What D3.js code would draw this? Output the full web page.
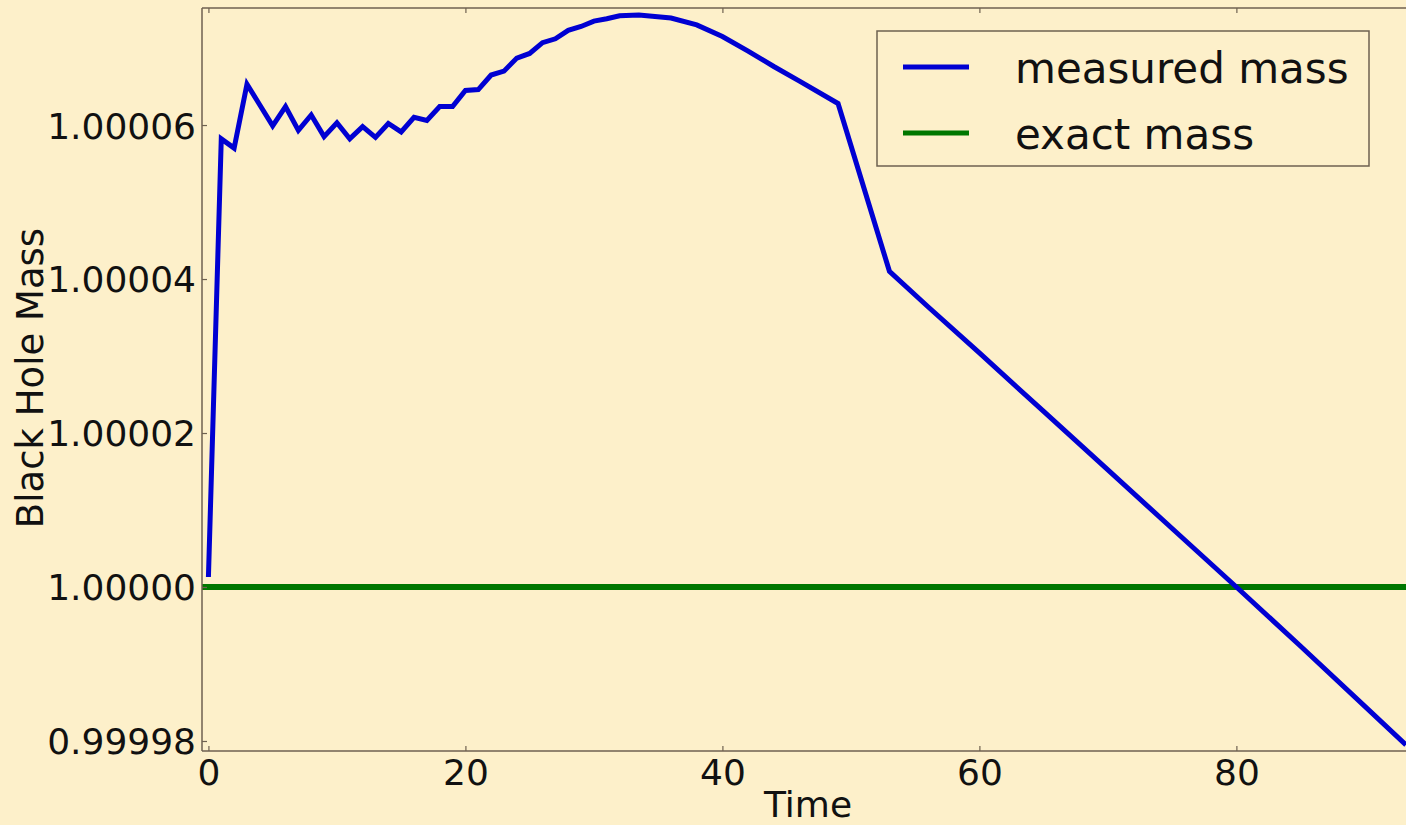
<!DOCTYPE html>
<html>
<head>
<meta charset="utf-8">
<style>
  body { margin: 0; background: #fdf0ca; }
  svg { display: block; }
  text { font-family: "DejaVu Sans", sans-serif; fill: #111; }
</style>
</head>
<body>
<script src="https://d3js.org/d3.v7.min.js"></script>
<script>
// measured black hole mass vs time
var time = [0, 1, 2, 3, 4, 5, 6, 7, 8, 9, 10, 11, 12, 13, 14, 15, 16, 17, 18, 19,
            20, 21, 22, 23, 24, 25, 26, 27, 28, 29, 30, 31, 32, 33.5, 36, 38, 40, 42,
            44, 46, 49, 53, 56, 60, 65, 70, 75, 80, 85, 90, 93.2];
var measured = [1.0000013, 1.0000582, 1.0000570, 1.0000653, 1.0000626, 1.0000599, 1.0000624,
                1.0000593, 1.0000613, 1.0000585, 1.0000603, 1.0000582, 1.0000598, 1.0000584,
                1.0000602, 1.0000591, 1.0000610, 1.0000606, 1.0000624, 1.0000624, 1.0000645,
                1.0000646, 1.0000665, 1.0000670, 1.0000687, 1.0000693, 1.0000707, 1.0000712,
                1.0000723, 1.0000728, 1.0000735, 1.0000738, 1.0000742, 1.0000743, 1.0000739,
                1.0000730, 1.0000715, 1.0000696, 1.0000676, 1.0000657, 1.0000628, 1.0000410,
                1.0000364, 1.0000304, 1.0000228, 1.0000152, 1.0000076, 1.0000000, 0.9999923,
                0.9999845, 0.9999795];
var exactMass = 1.0;
var yTicks = [0.99998, 1.00000, 1.00002, 1.00004, 1.00006];
var xTicks = [0, 20, 40, 60, 80];
var seriesNames = ["measured mass", "exact mass"];
var seriesColors = ["#0000d2", "#007700"];

var width = 1406, height = 825;
var mLeft = 202, mRight = 1406, mTop = 8, mBottom = 751;

var svg = d3.select("body").append("svg")
    .attr("width", width)
    .attr("height", height);

var x = d3.scaleLinear().domain([-0.5, 93.2]).range([mLeft, mRight]);
var y = d3.scaleLinear().domain([0.9999787, 1.0000752]).range([mBottom, mTop]);

var pts = time.map(function(t, i) { return [t, measured[i]]; });

var line = d3.line()
    .x(function(d) { return x(d[0]); })
    .y(function(d) { return y(d[1]); });

var plot = svg.append("g");

plot.append("path")
    .datum([[-0.5, exactMass], [93.2, exactMass]])
    .attr("d", line)
    .attr("fill", "none")
    .attr("stroke", seriesColors[1])
    .attr("stroke-width", 6);

plot.append("path")
    .datum(pts)
    .attr("d", line)
    .attr("fill", "none")
    .attr("stroke", seriesColors[0])
    .attr("stroke-width", 5)
    .attr("stroke-linejoin", "miter");

// spines
var spine = "#6e6150";
svg.append("line").attr("x1", mLeft).attr("x2", mLeft).attr("y1", mTop).attr("y2", mBottom)
    .attr("stroke", spine).attr("stroke-width", 1.5);
svg.append("line").attr("x1", mLeft).attr("x2", mRight).attr("y1", mBottom).attr("y2", mBottom)
    .attr("stroke", spine).attr("stroke-width", 1.5);
svg.append("line").attr("x1", mLeft).attr("x2", mRight).attr("y1", mTop).attr("y2", mTop)
    .attr("stroke", spine).attr("stroke-width", 1.5);

// axes (ticks point inward like matplotlib)
var xAxis = svg.append("g")
    .attr("transform", "translate(0," + mBottom + ")")
    .call(d3.axisBottom(x).tickValues(xTicks).tickSizeInner(-5).tickSizeOuter(0).tickPadding(8));
var xTop = svg.append("g")
    .attr("transform", "translate(0," + mTop + ")")
    .call(d3.axisTop(x).tickValues(xTicks).tickSizeInner(-5).tickSizeOuter(0).tickFormat(""));
var yAxis = svg.append("g")
    .attr("transform", "translate(" + mLeft + ",0)")
    .call(d3.axisLeft(y).tickValues(yTicks).tickSizeInner(-5).tickSizeOuter(0).tickPadding(6)
        .tickFormat(d3.format(".5f")));

[xAxis, xTop, yAxis].forEach(function(g) {
    g.select(".domain").remove();
    g.selectAll(".tick line").attr("stroke", spine).attr("stroke-width", 1.2);
    g.selectAll("text").style("font-size", "36px").attr("fill", "#111");
});
xAxis.selectAll("text").attr("dy", "0.71em").attr("y", 8);
yAxis.selectAll("text").attr("dy", "0.36em");

svg.append("text")
    .attr("x", 808).attr("y", 817)
    .attr("text-anchor", "middle")
    .style("font-size", "36px")
    .text("Time");

svg.append("text")
    .attr("transform", "translate(43,378) rotate(-90)")
    .attr("text-anchor", "middle")
    .style("font-size", "37px")
    .text("Black Hole Mass");

// legend
var legend = svg.append("g");
legend.append("rect")
    .attr("x", 877).attr("y", 31).attr("width", 492).attr("height", 135)
    .attr("fill", "#fdf0ca").attr("stroke", spine).attr("stroke-width", 1.5);

var items = legend.selectAll("g.item")
    .data(seriesNames)
    .enter().append("g")
    .attr("class", "item")
    .attr("transform", function(d, i) { return "translate(0," + (67 + i * 66) + ")"; });

items.append("line")
    .attr("x1", 903).attr("x2", 969)
    .attr("stroke", function(d, i) { return seriesColors[i]; })
    .attr("stroke-width", 5);

items.append("text")
    .attr("x", 1015).attr("y", 16)
    .style("font-size", "42px")
    .text(function(d) { return d; });
</script>
</body>
</html>
